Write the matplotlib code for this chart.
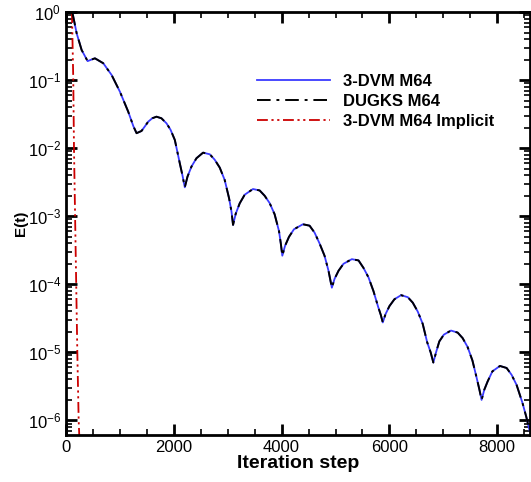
import matplotlib
matplotlib.use("Agg")
import matplotlib.pyplot as plt
from matplotlib.ticker import LogLocator, MultipleLocator, NullFormatter

plt.rcParams['font.family'] = ['Liberation Sans', 'DejaVu Sans']

# error decay (DVM explicit and DUGKS lie on top of each other)
steps = [117, 198, 290, 401, 470, 537, 691, 846, 1000, 1154, 1250, 1309,
         1401, 1463, 1525, 1600, 1679, 1770, 1864, 1940, 2019, 2111, 2160, 2204,
         2254, 2328, 2420, 2543, 2667, 2759, 2852, 2944, 3025, 3070, 3099,
         3149, 3223, 3315, 3469, 3593, 3685, 3778, 3870, 3951, 3985, 4013,
         4063, 4137, 4229, 4395, 4519, 4611, 4704, 4796, 4870, 4932,
         4982, 5056, 5148, 5303, 5427, 5519, 5612, 5704, 5790, 5840, 5877,
         5927, 6001, 6093, 6217, 6341, 6433, 6525, 6617, 6700, 6765, 6815,
         6865, 6926, 7010, 7142, 7266, 7358, 7450, 7540, 7620, 7670, 7710,
         7760, 7821, 7910, 8050, 8174, 8266, 8360, 8469, 8540, 8600]
err_dvm = [1.0, 0.486, 0.277, 0.19, 0.2, 0.209, 0.177, 0.119, 0.0676, 0.0344, 0.021, 0.0166,
           0.0179, 0.0209, 0.0245, 0.0275, 0.029, 0.0275, 0.0232, 0.0186, 0.0132, 0.006, 0.004, 0.00266,
           3.82e-3, 5.37e-3, 7.11e-3, 8.59e-3, 8.13e-3, 6.76e-3, 5.18e-3, 3.41e-3, 1.84e-3, 1.17e-3, 7.45e-4,
           1.09e-3, 1.55e-3, 2.07e-3, 2.51e-3, 2.39e-3, 2.0e-3, 1.56e-3, 1.07e-3, 6.07e-4, 3.98e-4, 2.63e-4,
           3.66e-4, 4.98e-4, 6.43e-4, 7.62e-4, 7.26e-4, 5.75e-4, 3.98e-4, 2.63e-4, 1.58e-4, 8.91e-5,
           1.2e-4, 1.58e-4, 2.0e-4, 2.34e-4, 2.24e-4, 1.74e-4, 1.26e-4, 7.94e-5, 4.68e-5, 3.55e-5, 2.75e-5,
           3.63e-5, 4.79e-5, 6.03e-5, 6.92e-5, 6.46e-5, 5.37e-5, 3.98e-5, 2.63e-5, 1.41e-5, 1.0e-5, 7.08e-6,
           1.0e-5, 1.45e-5, 1.82e-5, 2.09e-5, 1.95e-5, 1.62e-5, 1.2e-5, 7.59e-6, 4.17e-6, 2.82e-6, 2.0e-6,
           2.82e-6, 3.72e-6, 5.25e-6, 6.31e-6, 5.89e-6, 4.68e-6, 3.31e-6, 1.8e-6, 1.12e-6, 7.08e-7]
err_dugks = err_dvm

# implicit run: drops almost straight down
steps_imp = [110, 135, 148, 210, 235, 250]
err_imp = [1.0, 1e-1, 1e-2, 1e-5, 1e-6, 5e-7]

y_ticks = [1e-6, 1e-5, 1e-4, 1e-3, 1e-2, 1e-1, 1e0]

fig = plt.figure(figsize=(5.31, 4.82), dpi=100)
ax = fig.add_axes([0.1243, 0.0975, 0.873, 0.8775])

ax.plot(steps, err_dvm, color='#3a3aff', lw=1.3, label='3-DVM M64')
ax.plot(steps_imp, err_imp, color='#cc0000', lw=1.3,
        dashes=[6, 2, 1.2, 2, 1.2, 2], label='3-DVM M64 Implicit')
ax.plot(steps, err_dugks, color='black', lw=1.4, dashes=[7, 3, 1.5, 3],
        label='DUGKS M64')

ax.set_yscale('log')
ax.set_xlim(0, 8600)
ax.set_ylim(6.1e-7, 1.0)
ax.xaxis.set_major_locator(MultipleLocator(2000))
ax.xaxis.set_minor_locator(MultipleLocator(500))
ax.set_yticks(y_ticks)
ax.yaxis.set_minor_locator(LogLocator(base=10, subs=range(2, 10), numticks=20))
ax.yaxis.set_minor_formatter(NullFormatter())

ax.tick_params(which='both', direction='in', top=True, right=True,
               labelsize=12, width=1.2)
ax.tick_params(which='major', length=8, width=2)
ax.tick_params(which='minor', length=4)
for s in ax.spines.values():
    s.set_linewidth(2)

ax.set_xlabel('Iteration step', fontsize=14, fontweight='bold', labelpad=0)
ax.set_ylabel('E(t)', fontsize=11, fontweight='bold', labelpad=0)

h, l = ax.get_legend_handles_labels()
order = [0, 2, 1]
leg = ax.legend([h[i] for i in order], [l[i] for i in order],
                loc='upper left', bbox_to_anchor=(0.38, 0.89), frameon=False,
                prop={'weight': 'bold', 'size': 12}, handlelength=4.4,
                handletextpad=0.75, labelspacing=0.3)

fig.savefig('out.png', dpi=100)
